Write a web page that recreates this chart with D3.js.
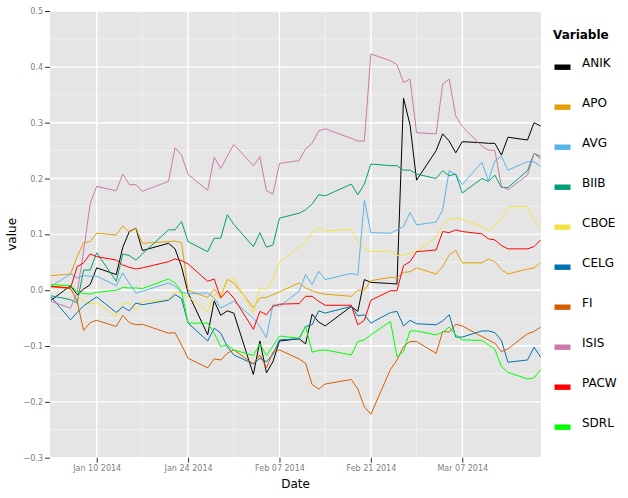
<!DOCTYPE html>
<html>
<head>
<meta charset="utf-8">
<script src="https://cdn.jsdelivr.net/npm/d3@7"></script>
<style>
  html, body { margin: 0; padding: 0; background: #ffffff; }
  svg { display: block; }
</style>
</head>
<body>
<svg id="chart" width="628" height="498"></svg>
<script>
// ---------------- data ----------------
const dates = [
  "2014-01-03","2014-01-06","2014-01-07","2014-01-08","2014-01-09","2014-01-10",
  "2014-01-13","2014-01-14","2014-01-15","2014-01-16","2014-01-17",
  "2014-01-21","2014-01-22","2014-01-23","2014-01-24",
  "2014-01-27","2014-01-28","2014-01-29","2014-01-30","2014-01-31",
  "2014-02-03","2014-02-04","2014-02-05","2014-02-06","2014-02-07",
  "2014-02-10","2014-02-11","2014-02-12","2014-02-13","2014-02-14",
  "2014-02-18","2014-02-19","2014-02-20","2014-02-21",
  "2014-02-24","2014-02-25","2014-02-26","2014-02-27","2014-02-28",
  "2014-03-03","2014-03-04","2014-03-05","2014-03-06","2014-03-07",
  "2014-03-10","2014-03-11","2014-03-12","2014-03-13","2014-03-14",
  "2014-03-17","2014-03-18","2014-03-19"
];

const ANIK = [-0.018,0.008,-0.008,0.002,0.01,0.04,0.028,0.077,0.105,0.111,0.071,0.084,0.074,0.042,-0.005,-0.08,-0.019,-0.045,-0.037,-0.041,
  -0.151,-0.091,-0.148,-0.128,-0.091,-0.087,-0.096,-0.043,-0.057,-0.064,-0.029,-0.038,0.019,0.014,0.012,0.011,0.344,0.296,0.197,
  0.25,0.28,0.267,0.246,0.266,0.264,0.263,0.263,0.242,0.274,0.269,0.3,0.294];
const APO = [0.026,0.029,0.06,0.085,0.087,0.102,0.099,0.115,0.104,0.111,0.084,0.087,0.088,0.085,0.0,-0.013,0.002,-0.011,0.019,0.013,
  -0.031,-0.014,-0.013,-0.008,-0.003,0.013,0.004,-0.001,-0.005,-0.007,-0.011,0.0,0.0,0.017,0.023,0.022,0.032,0.033,0.04,
  0.029,0.042,0.063,0.071,0.049,0.049,0.056,0.051,0.037,0.029,0.038,0.04,0.05];
const AVG = [0.007,0.029,0.022,0.026,0.025,0.025,0.008,0.031,0.012,-0.005,-0.002,0.013,0.007,-0.004,-0.006,-0.005,-0.014,-0.032,-0.026,-0.02,
  -0.05,-0.065,-0.085,-0.026,-0.029,-0.002,0.028,0.01,0.034,0.019,0.03,0.027,0.161,0.103,0.102,0.108,0.114,0.139,0.117,
  0.122,0.144,0.214,0.207,0.189,0.229,0.196,0.232,0.24,0.215,0.23,0.23,0.222];
const BIIB = [-0.01,-0.017,-0.023,0.036,0.036,0.067,0.016,0.065,0.062,0.054,0.065,0.108,0.108,0.123,0.087,0.069,0.093,0.093,0.135,0.118,
  0.078,0.103,0.077,0.081,0.129,0.138,0.144,0.154,0.171,0.169,0.19,0.171,0.19,0.226,0.223,0.223,0.215,0.215,0.208,
  0.2,0.214,0.205,0.208,0.174,0.2,0.195,0.206,0.184,0.184,0.214,0.245,0.239];
const CBOE = [0.012,0.003,-0.01,-0.02,-0.025,-0.022,-0.047,-0.024,-0.022,-0.036,-0.02,-0.017,-0.002,-0.005,-0.012,-0.038,-0.008,-0.014,0.016,0.023,
  -0.041,0.005,0.001,0.019,0.05,0.077,0.087,0.102,0.112,0.106,0.109,0.088,0.075,0.069,0.07,0.062,0.063,0.066,0.069,
  0.095,0.117,0.127,0.129,0.127,0.114,0.107,0.116,0.127,0.15,0.15,0.126,0.11];
const CELG = [-0.012,-0.053,-0.04,-0.028,-0.02,-0.012,-0.04,-0.03,-0.037,-0.023,-0.026,-0.018,-0.008,-0.015,-0.059,-0.091,-0.068,-0.077,-0.101,-0.116,
  -0.132,-0.122,-0.128,-0.115,-0.089,-0.087,-0.065,-0.062,-0.037,-0.041,-0.029,-0.046,-0.044,-0.059,-0.04,-0.038,-0.064,-0.054,-0.06,
  -0.062,-0.055,-0.044,-0.084,-0.084,-0.073,-0.073,-0.076,-0.09,-0.129,-0.125,-0.102,-0.12];
const FI = [0.006,0.003,-0.02,-0.072,-0.058,-0.054,-0.065,-0.045,-0.058,-0.062,-0.061,-0.077,-0.076,-0.098,-0.122,-0.139,-0.123,-0.125,-0.113,-0.107,
  -0.132,-0.116,-0.139,-0.111,-0.107,-0.123,-0.131,-0.169,-0.177,-0.168,-0.16,-0.177,-0.209,-0.222,-0.142,-0.125,-0.101,-0.092,-0.092,
  -0.113,-0.074,-0.075,-0.061,-0.064,-0.083,-0.089,-0.095,-0.11,-0.105,-0.078,-0.074,-0.066];
const ISIS = [-0.02,-0.032,-0.005,0.07,0.155,0.186,0.178,0.208,0.189,0.189,0.177,0.195,0.255,0.242,0.207,0.179,0.238,0.218,0.24,0.261,
  0.223,0.239,0.178,0.172,0.227,0.232,0.253,0.263,0.285,0.289,0.272,0.267,0.267,0.423,0.411,0.404,0.372,0.378,0.282,
  0.28,0.369,0.378,0.312,0.293,0.258,0.251,0.25,0.186,0.18,0.206,0.245,0.235];
const PACW = [0.007,0.004,0.042,0.049,0.065,0.06,0.054,0.045,0.041,0.038,0.04,0.051,0.056,0.053,0.047,0.016,0.02,-0.014,-0.001,-0.014,
  -0.07,-0.038,-0.044,-0.029,-0.025,-0.024,-0.011,-0.011,-0.02,-0.027,-0.027,-0.062,-0.054,-0.018,-0.001,-0.001,0.044,0.051,0.069,
  0.072,0.105,0.103,0.108,0.105,0.101,0.092,0.09,0.08,0.074,0.074,0.078,0.09];
const SDRL = [0.01,0.008,-0.002,-0.006,-0.007,-0.004,0.0,0.005,0.004,0.004,0.003,0.02,0.013,-0.002,-0.059,-0.059,-0.077,-0.101,-0.098,-0.107,
  -0.117,-0.096,-0.117,-0.1,-0.082,-0.086,-0.065,-0.111,-0.108,-0.107,-0.116,-0.092,-0.089,-0.08,-0.056,-0.119,-0.11,-0.073,-0.073,
  -0.08,-0.075,-0.066,-0.08,-0.089,-0.09,-0.098,-0.106,-0.137,-0.147,-0.159,-0.157,-0.142];

const variables = ["ANIK","APO","AVG","BIIB","CBOE","CELG","FI","ISIS","PACW","SDRL"];
const seriesValues = [ANIK, APO, AVG, BIIB, CBOE, CELG, FI, ISIS, PACW, SDRL];
const colors = ["#000000","#E69F00","#56B4E9","#009E73","#F0E442","#0072B2","#D55E00","#CC79A7","#FF0000","#00FF00"];

const xTickDates = ["2014-01-10","2014-01-24","2014-02-07","2014-02-21","2014-03-07"];
const xMinorDates = ["2014-01-17","2014-01-31","2014-02-14","2014-02-28"];
const yTicks = [-0.3,-0.2,-0.1,0.0,0.1,0.2,0.3,0.4,0.5];
const yMinor = [-0.25,-0.15,-0.05,0.05,0.15,0.25,0.35,0.45];

// ---------------- layout ----------------
const parse = d3.timeParse("%Y-%m-%d");
const P = { left: 50, right: 541, top: 11, bottom: 457.7 };

const x = d3.scaleTime()
  .domain([parse(dates[0]), parse(dates[dates.length - 1])])
  .range([51, 540.6]);
const y = d3.scaleLinear().domain([-0.3, 0.5]).range([P.bottom, P.top]);

const svg = d3.select("#chart");
const font = "'DejaVu Sans', sans-serif";

// panel
svg.append("rect")
  .attr("x", P.left).attr("y", P.top)
  .attr("width", P.right - P.left).attr("height", P.bottom - P.top)
  .attr("fill", "#E5E5E5");

const grid = svg.append("g");
// minor grid
grid.selectAll("line.ymin").data(yMinor).enter().append("line")
  .attr("x1", P.left).attr("x2", P.right)
  .attr("y1", d => y(d)).attr("y2", d => y(d))
  .attr("stroke", "#F2F2F2").attr("stroke-width", 0.8);
grid.selectAll("line.xmin").data(xMinorDates).enter().append("line")
  .attr("y1", P.top).attr("y2", P.bottom)
  .attr("x1", d => x(parse(d))).attr("x2", d => x(parse(d)))
  .attr("stroke", "#F2F2F2").attr("stroke-width", 0.8);
// major grid
grid.selectAll("line.ymaj").data(yTicks).enter().append("line")
  .attr("x1", P.left).attr("x2", P.right)
  .attr("y1", d => y(d)).attr("y2", d => y(d))
  .attr("stroke", "#FFFFFF").attr("stroke-width", 1.4);
grid.selectAll("line.xmaj").data(xTickDates).enter().append("line")
  .attr("y1", P.top).attr("y2", P.bottom)
  .attr("x1", d => x(parse(d))).attr("x2", d => x(parse(d)))
  .attr("stroke", "#FFFFFF").attr("stroke-width", 1.4);

// axes
const fmtY = d => (d < 0 ? "\u2212" : "") + Math.abs(d).toFixed(1);
const yAxis = d3.axisLeft(y).tickValues(yTicks).tickFormat(fmtY).tickSize(5).tickPadding(2);
const gy = svg.append("g").attr("transform", `translate(${P.left},0)`).call(yAxis);
gy.select(".domain").remove();
gy.selectAll(".tick line").attr("stroke", "#333333").attr("stroke-width", 1);
gy.selectAll(".tick text").attr("fill", "#808080").attr("font-family", font).attr("font-size", 8);

const fmtX = d3.timeFormat("%b %d %Y");
const xAxis = d3.axisBottom(x).tickValues(xTickDates.map(parse)).tickFormat(fmtX).tickSize(5).tickPadding(3);
const gx = svg.append("g").attr("transform", `translate(0,${P.bottom})`).call(xAxis);
gx.select(".domain").remove();
gx.selectAll(".tick line").attr("stroke", "#333333").attr("stroke-width", 1);
gx.selectAll(".tick text").attr("fill", "#808080").attr("font-family", font).attr("font-size", 8);

// lines
const clip = svg.append("clipPath").attr("id", "clip").append("rect")
  .attr("x", P.left).attr("y", P.top).attr("width", P.right - P.left).attr("height", P.bottom - P.top);
const line = d3.line().x((d, i) => x(parse(dates[i]))).y(d => y(d));
const lg = svg.append("g").attr("clip-path", "url(#clip)");
variables.forEach((v, k) => {
  lg.append("path")
    .datum(seriesValues[k])
    .attr("d", line)
    .attr("fill", "none")
    .attr("stroke", colors[k])
    .attr("stroke-width", 1)
    .attr("stroke-linejoin", "round");
});

// axis titles
svg.append("text").attr("x", (P.left + P.right) / 2).attr("y", 488)
  .attr("text-anchor", "middle").attr("font-family", font).attr("font-size", 12)
  .attr("fill", "#000").text("Date");
svg.append("text").attr("transform", `translate(16,${(P.top + P.bottom) / 2}) rotate(-90)`)
  .attr("text-anchor", "middle").attr("font-family", font).attr("font-size", 12)
  .attr("fill", "#000").text("value");

// legend
const leg = svg.append("g");
leg.append("text").attr("x", 553).attr("y", 39)
  .attr("font-family", font).attr("font-size", 12).attr("font-weight", "bold")
  .attr("fill", "#000").text("Variable");
variables.forEach((v, k) => {
  const cy = 67.2 + 40 * k;
  leg.append("rect").attr("x", 554.5).attr("y", cy - 2.7).attr("width", 16).attr("height", 5.4)
    .attr("fill", colors[k]);
  leg.append("text").attr("x", 582).attr("y", cy - 0.5)
    .attr("font-family", font).attr("font-size", 12).attr("fill", "#000").text(v);
});
</script>
</body>
</html>
